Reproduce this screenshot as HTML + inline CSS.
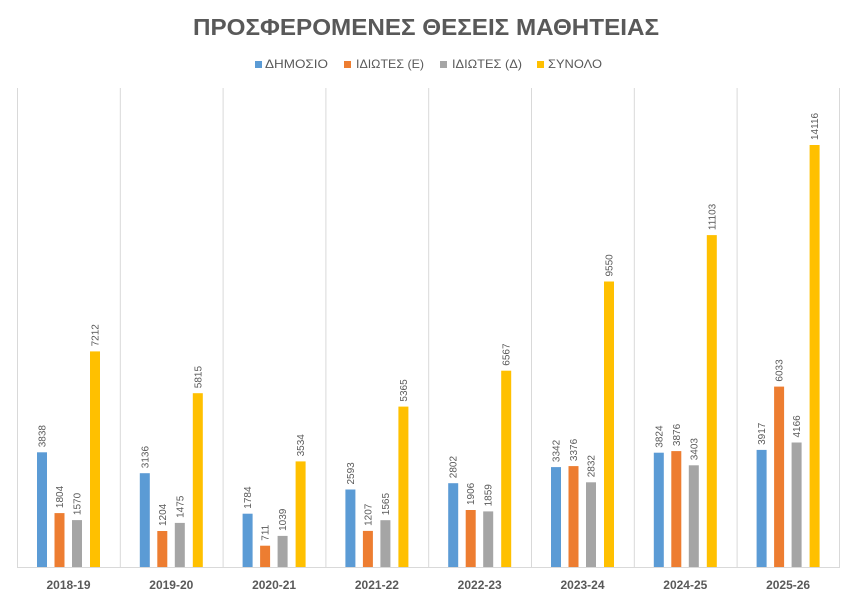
<!DOCTYPE html>
<html><head><meta charset="utf-8"><style>
html,body{margin:0;padding:0;background:#fff}
svg text{font-family:"Liberation Sans","DejaVu Sans",sans-serif}
</style></head><body>
<svg width="849" height="600" viewBox="0 0 849 600" xmlns="http://www.w3.org/2000/svg">
<rect width="849" height="600" fill="#fff"/>
<text x="426" y="35" text-anchor="middle" font-size="23" font-weight="bold" fill="#595959" textLength="466" lengthAdjust="spacingAndGlyphs">ΠΡΟΣΦΕΡΟΜΕΝΕΣ ΘΕΣΕΙΣ ΜΑΘΗΤΕΙΑΣ</text>
<g font-size="12" fill="#595959">
<rect x="255" y="61" width="7" height="7" fill="#5b9bd5"/><text x="265" y="68" textLength="63" lengthAdjust="spacingAndGlyphs">ΔΗΜΟΣΙΟ</text>
<rect x="344" y="61" width="7" height="7" fill="#ed7d31"/><text x="356" y="68" textLength="68" lengthAdjust="spacingAndGlyphs">ΙΔΙΩΤΕΣ (Ε)</text>
<rect x="440" y="61" width="7" height="7" fill="#a5a5a5"/><text x="452" y="68" textLength="70" lengthAdjust="spacingAndGlyphs">ΙΔΙΩΤΕΣ (Δ)</text>
<rect x="537" y="61" width="7" height="7" fill="#ffc000"/><text x="548" y="68" textLength="54" lengthAdjust="spacingAndGlyphs">ΣΥΝΟΛΟ</text>
</g>
<g stroke="#d9d9d9" stroke-width="1">
<line x1="17.5" y1="88" x2="17.5" y2="567"/><line x1="120.3" y1="88" x2="120.3" y2="567"/><line x1="223.1" y1="88" x2="223.1" y2="567"/><line x1="325.9" y1="88" x2="325.9" y2="567"/><line x1="428.7" y1="88" x2="428.7" y2="567"/><line x1="531.5" y1="88" x2="531.5" y2="567"/><line x1="634.3" y1="88" x2="634.3" y2="567"/><line x1="737.1" y1="88" x2="737.1" y2="567"/><line x1="839.5" y1="88" x2="839.5" y2="567"/>
<line x1="17" y1="567.5" x2="840" y2="567.5"/>
</g>
<g font-size="10" fill="#595959">
<g transform="translate(17,567)">
<rect x="20" y="-114.7" width="10" height="114.7" fill="#5b9bd5"/><rect x="37.5" y="-53.9" width="10" height="53.9" fill="#ed7d31"/><rect x="55" y="-46.9" width="10" height="46.9" fill="#a5a5a5"/><rect x="73" y="-215.6" width="10" height="215.6" fill="#ffc000"/>
<text transform="translate(28.5,-119.7) rotate(-90)">3838</text><text transform="translate(46,-58.9) rotate(-90)">1804</text><text transform="translate(63.5,-51.9) rotate(-90)">1570</text><text transform="translate(81.5,-220.6) rotate(-90)">7212</text>
</g>
<g transform="translate(119.8,567)">
<rect x="20" y="-93.8" width="10" height="93.8" fill="#5b9bd5"/><rect x="37.5" y="-36" width="10" height="36" fill="#ed7d31"/><rect x="55" y="-44.1" width="10" height="44.1" fill="#a5a5a5"/><rect x="73" y="-173.8" width="10" height="173.8" fill="#ffc000"/>
<text transform="translate(28.5,-98.8) rotate(-90)">3136</text><text transform="translate(46,-41) rotate(-90)">1204</text><text transform="translate(63.5,-49.1) rotate(-90)">1475</text><text transform="translate(81.5,-178.8) rotate(-90)">5815</text>
</g>
<g transform="translate(222.6,567)">
<rect x="20" y="-53.3" width="10" height="53.3" fill="#5b9bd5"/><rect x="37.5" y="-21.3" width="10" height="21.3" fill="#ed7d31"/><rect x="55" y="-31.1" width="10" height="31.1" fill="#a5a5a5"/><rect x="73" y="-105.6" width="10" height="105.6" fill="#ffc000"/>
<text transform="translate(28.5,-58.3) rotate(-90)">1784</text><text transform="translate(46,-26.3) rotate(-90)">711</text><text transform="translate(63.5,-36.1) rotate(-90)">1039</text><text transform="translate(81.5,-110.6) rotate(-90)">3534</text>
</g>
<g transform="translate(325.4,567)">
<rect x="20" y="-77.5" width="10" height="77.5" fill="#5b9bd5"/><rect x="37.5" y="-36.1" width="10" height="36.1" fill="#ed7d31"/><rect x="55" y="-46.8" width="10" height="46.8" fill="#a5a5a5"/><rect x="73" y="-160.4" width="10" height="160.4" fill="#ffc000"/>
<text transform="translate(28.5,-82.5) rotate(-90)">2593</text><text transform="translate(46,-41.1) rotate(-90)">1207</text><text transform="translate(63.5,-51.8) rotate(-90)">1565</text><text transform="translate(81.5,-165.4) rotate(-90)">5365</text>
</g>
<g transform="translate(428.2,567)">
<rect x="20" y="-83.8" width="10" height="83.8" fill="#5b9bd5"/><rect x="37.5" y="-57" width="10" height="57" fill="#ed7d31"/><rect x="55" y="-55.6" width="10" height="55.6" fill="#a5a5a5"/><rect x="73" y="-196.3" width="10" height="196.3" fill="#ffc000"/>
<text transform="translate(28.5,-88.8) rotate(-90)">2802</text><text transform="translate(46,-62) rotate(-90)">1906</text><text transform="translate(63.5,-60.6) rotate(-90)">1859</text><text transform="translate(81.5,-201.3) rotate(-90)">6567</text>
</g>
<g transform="translate(531,567)">
<rect x="20" y="-99.9" width="10" height="99.9" fill="#5b9bd5"/><rect x="37.5" y="-100.9" width="10" height="100.9" fill="#ed7d31"/><rect x="55" y="-84.7" width="10" height="84.7" fill="#a5a5a5"/><rect x="73" y="-285.5" width="10" height="285.5" fill="#ffc000"/>
<text transform="translate(28.5,-104.9) rotate(-90)">3342</text><text transform="translate(46,-105.9) rotate(-90)">3376</text><text transform="translate(63.5,-89.7) rotate(-90)">2832</text><text transform="translate(81.5,-290.5) rotate(-90)">9550</text>
</g>
<g transform="translate(633.8,567)">
<rect x="20" y="-114.3" width="10" height="114.3" fill="#5b9bd5"/><rect x="37.5" y="-115.9" width="10" height="115.9" fill="#ed7d31"/><rect x="55" y="-101.7" width="10" height="101.7" fill="#a5a5a5"/><rect x="73" y="-331.9" width="10" height="331.9" fill="#ffc000"/>
<text transform="translate(28.5,-119.3) rotate(-90)">3824</text><text transform="translate(46,-120.9) rotate(-90)">3876</text><text transform="translate(63.5,-106.7) rotate(-90)">3403</text><text transform="translate(81.5,-336.9) rotate(-90)">11103</text>
</g>
<g transform="translate(736.6,567)">
<rect x="20" y="-117.1" width="10" height="117.1" fill="#5b9bd5"/><rect x="37.5" y="-180.4" width="10" height="180.4" fill="#ed7d31"/><rect x="55" y="-124.5" width="10" height="124.5" fill="#a5a5a5"/><rect x="73" y="-422" width="10" height="422" fill="#ffc000"/>
<text transform="translate(28.5,-122.1) rotate(-90)">3917</text><text transform="translate(46,-185.4) rotate(-90)">6033</text><text transform="translate(63.5,-129.5) rotate(-90)">4166</text><text transform="translate(81.5,-427) rotate(-90)">14116</text>
</g>
</g>
<g font-size="12" font-weight="bold" fill="#595959" text-anchor="middle">
<text x="68.5" y="589">2018-19</text><text x="171.3" y="589">2019-20</text><text x="274.1" y="589">2020-21</text><text x="376.9" y="589">2021-22</text><text x="479.7" y="589">2022-23</text><text x="582.5" y="589">2023-24</text><text x="685.3" y="589">2024-25</text><text x="788.1" y="589">2025-26</text>
</g>
</svg>
</body></html>
